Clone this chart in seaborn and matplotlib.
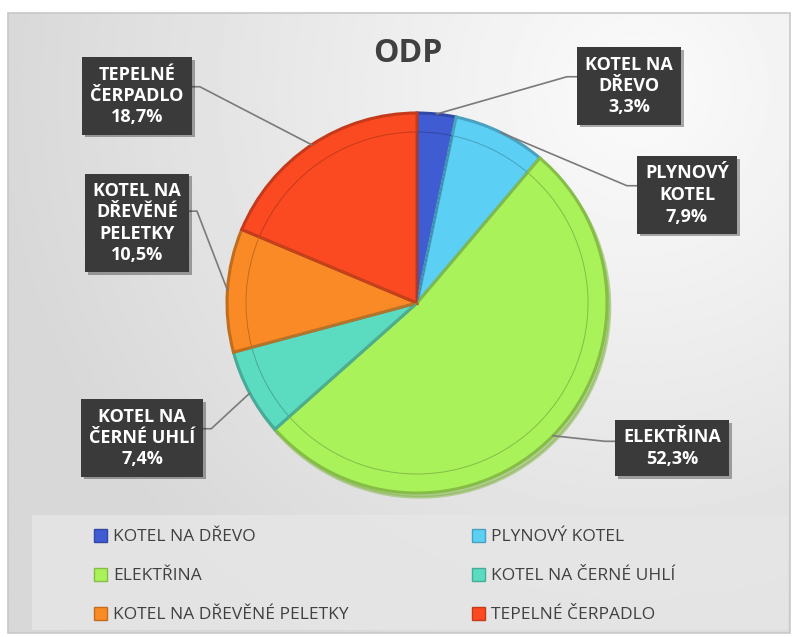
import matplotlib
matplotlib.use("Agg")
import matplotlib.pyplot as plt
import matplotlib.patheffects as pe
import matplotlib.colors as mcolors
from matplotlib.patches import Rectangle, Patch
import numpy as np
import seaborn as sns

# data
categories = ["KOTEL NA DŘEVO", "PLYNOVÝ KOTEL", "ELEKTŘINA",
              "KOTEL NA ČERNÉ UHLÍ", "KOTEL NA DŘEVĚNÉ PELETKY", "TEPELNÉ ČERPADLO"]
shares = [3.3, 7.9, 52.3, 7.4, 10.5, 18.7]
box_labels = ["KOTEL NA\nDŘEVO", "PLYNOVÝ\nKOTEL", "ELEKTŘINA",
              "KOTEL NA\nČERNÉ UHLÍ", "KOTEL NA\nDŘEVĚNÉ\nPELETKY", "TEPELNÉ\nČERPADLO"]
title = "ODP"

colors = ["#3f5cd2", "#5ccff4", "#aaf25a", "#5bdbc0", "#f98a26", "#fb4a22"]

W, H = 794, 637


def Y(y):
    # pixel row (from top) -> data y (from bottom)
    return H - y


def darken(c, f):
    r, g, b = mcolors.to_rgb(c)
    return (r * f, g * f, b * f)


sns.set_theme(style="white")
plt.rcParams["font.family"] = ["Open Sans", "DejaVu Sans"]

fig = plt.figure(figsize=(W / 100, H / 100), dpi=100, facecolor="white")
ax = fig.add_axes([0, 0, 1, 1])

# panel background with soft gradient (light top-right)
gx, gy = np.meshgrid(np.linspace(8, 790, 300), np.linspace(Y(633), Y(13), 300))
dist = np.hypot(gx - 640, gy - Y(90))
shade = 0.985 - 0.14 * np.clip(dist / 650, 0, 1)
ax.imshow(shade, cmap="gray", vmin=0, vmax=1, origin="lower",
          extent=(8, 790, Y(633), Y(13)), aspect="auto", zorder=0)
ax.add_patch(Rectangle((8, Y(633)), 782, 620, fill=False, ec="#c8c8c8", lw=1.2, zorder=1))

# legend area
ax.add_patch(Rectangle((32, Y(630)), 756, 115, fc="#e6e6e6", ec="none", alpha=0.85, zorder=1))

# pie
cx, cy, R = 417, Y(303), 190
dark = [darken(c, 0.78) for c in colors]
wedges, _ = ax.pie(shares, colors=colors, center=(cx, cy), radius=R,
                   startangle=90, counterclock=False,
                   wedgeprops=dict(linewidth=2.2),
                   shadow={"ox": 2, "oy": -3, "shade": 0.25})
for w, d in zip(wedges, dark):
    w.set_edgecolor(d)
    w.set_zorder(3)
inner, _ = ax.pie(shares, colors=["none"] * 6, center=(cx, cy), radius=R * 0.9,
                  startangle=90, counterclock=False,
                  wedgeprops=dict(linewidth=0.7))
for w, d in zip(inner, dark):
    w.set_edgecolor(d)
    w.set_facecolor("none")
    w.set_zorder(4)

ax.set_xlim(0, W)
ax.set_ylim(0, H)
ax.set_aspect("auto")
ax.axis("off")

# title
ax.text(408, Y(54), title, fontsize=23, fontweight="bold", color="#404040",
        ha="center", va="center", zorder=6)

# data label boxes
label_pos = [(629, 86), (687, 195), (672, 448), (142, 438), (137, 223), (137, 96)]
frac = np.array(shares) / sum(shares)
mids = np.deg2rad(90 - 360 * (np.cumsum(frac) - frac / 2))

texts = []
for lab, val, (px, py) in zip(box_labels, shares, label_pos):
    t = ax.text(px, Y(py), f"{lab}\n{val:.1f}%".replace(".", ","),
                fontsize=13, fontweight="bold", color="white",
                ha="center", va="center", linespacing=1.25, zorder=7,
                bbox=dict(boxstyle="square,pad=0.45", fc="#3a3a3a", ec="none"))
    t.get_bbox_patch().set_path_effects(
        [pe.withSimplePatchShadow(offset=(2, -2), alpha=0.35), pe.Normal()])
    texts.append(t)

fig.canvas.draw()
renderer = fig.canvas.get_renderer()
for t, m in zip(texts, mids):
    bb = t.get_bbox_patch().get_window_extent(renderer)
    ex = cx + R * np.cos(m)
    ey = cy + R * np.sin(m)
    ay = bb.y1 - 0.38 * bb.height
    if bb.x0 > cx:
        bx, elbow = bb.x0, bb.x0 - 10
    else:
        bx, elbow = bb.x1, bb.x1 + 8
    ax.plot([bx, elbow, ex], [ay, ay, ey], color="#7a7a7a", lw=1.2, zorder=5)

# legend in two columns, filled row-wise
handles = [Patch(fc=c, ec=d, lw=1) for c, d in zip(colors, dark)]
leg_font = dict(family=["Open Sans", "DejaVu Sans"], size=12.5)
common = dict(loc="upper left", frameon=False, prop=leg_font, labelcolor="#404040",
              handlelength=0.75, handleheight=0.75, handletextpad=0.35,
              labelspacing=1.3, borderpad=0, borderaxespad=0,
              bbox_transform=fig.transFigure)
leg1 = ax.legend([handles[i] for i in (0, 2, 4)], [categories[i] for i in (0, 2, 4)],
                 bbox_to_anchor=(94 / W, 1 - 529 / H), **common)
ax.add_artist(leg1)
leg2 = ax.legend([handles[i] for i in (1, 3, 5)], [categories[i] for i in (1, 3, 5)],
                 bbox_to_anchor=(472 / W, 1 - 529 / H), **common)
for lg in (leg1, leg2):
    lg.set_zorder(8)

fig.savefig("out.png", dpi=100, facecolor="white")
